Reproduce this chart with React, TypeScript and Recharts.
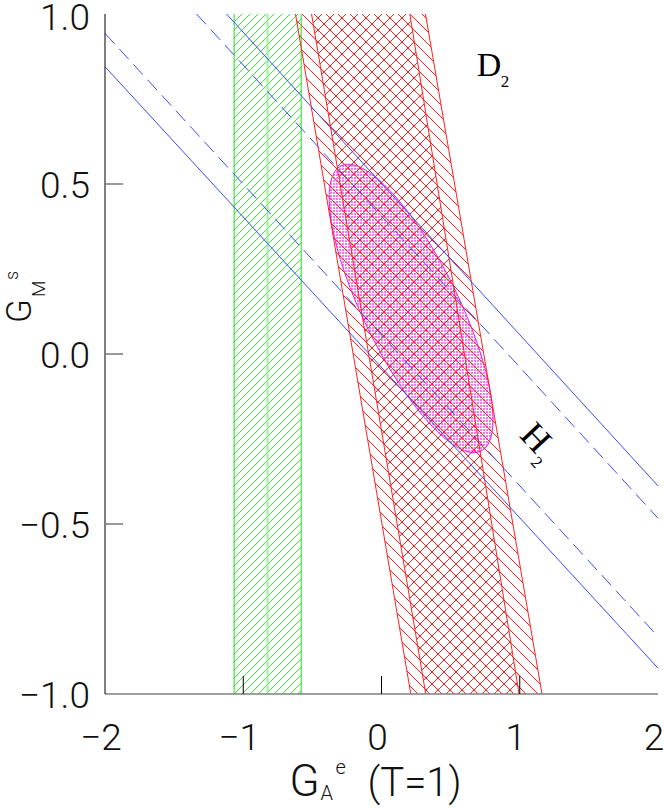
import React from 'react';
import {
  ComposedChart,
  XAxis,
  YAxis,
  ReferenceArea,
  ReferenceLine,
  ReferenceDot,
} from 'recharts';

// axis ticks
const xTicks = [-2, -1, 0, 1, 2];
const yTicks = [-1, -0.5, 0, 0.5, 1];
const innerXTicks = [-1, 0, 1];
const innerYTicks = [-0.5, 0, 0.5];

// green vertical band (x range) and its centre line
const greenBand = [-1.066, -0.581];
const greenCentre = -0.824;

// red band edges: [x at y = 1, x at y = -1]
const redOuterLeft = [-0.622, 0.212];
const redInnerLeft = [-0.506, 0.32];
const redInnerRight = [0.205, 0.995];
const redOuterRight = [0.318, 1.161];

// blue lines, end points on the frame
const blueSolidLow = [{ x: -2, y: 0.845 }, { x: 2, y: -0.924 }];
const blueDashLow = [{ x: -2, y: 0.943 }, { x: 2, y: -0.831 }];
const blueDashHigh = [{ x: -1.338, y: 1 }, { x: 2, y: -0.483 }];
const blueSolidHigh = [{ x: -1.121, y: 1 }, { x: 2, y: -0.388 }];

// magenta ellipse: centre and two conjugate semi-diameters (data units)
const ellipseCentre = { x: 0.214, y: 0.134 };
const ellipseAxisU = { x: 0.593, y: -0.326 };
const ellipseAxisV = { x: 0, y: 0.272 };

// annotation anchors
const labelD2 = { x: 0.769, y: 0.853 };
const labelH2 = { x: 1.119, y: -0.246 };

const SANS = 'Roboto, "Liberation Sans", Arial, sans-serif';
const SERIF = '"Liberation Serif", "Times New Roman", serif';
const RED = '#ff2020';
const BLUE = '#3a4cf0';
const GREEN = '#22dd22';

const band = (left: number[], right: number[]) => [
  { x: left[0], y: 1 },
  { x: right[0], y: 1 },
  { x: right[1], y: -1 },
  { x: left[1], y: -1 },
];
const redOuter = band(redOuterLeft, redOuterRight);
const redInner = band(redInnerLeft, redInnerRight);

const boxOf = (pts: { x: number; y: number }[]) => ({
  x1: Math.min(...pts.map((p) => p.x)),
  x2: Math.max(...pts.map((p) => p.x)),
  y1: Math.min(...pts.map((p) => p.y)),
  y2: Math.max(...pts.map((p) => p.y)),
});

// maps data coords inside a ReferenceArea box onto the pixel rect the chart gives it
const mapper = (box: any, r: any) => ({
  px: (v: number) => r.x + ((v - box.x1) / (box.x2 - box.x1)) * r.width,
  py: (v: number) => r.y + ((box.y2 - v) / (box.y2 - box.y1)) * r.height,
  sx: r.width / (box.x2 - box.x1),
  sy: r.height / (box.y2 - box.y1),
});

const polygonShape = (pts: { x: number; y: number }[], fill: string) => {
  const box = boxOf(pts);
  return (r: any) => {
    const m = mapper(box, r);
    const d = pts.map((p, i) => `${i ? 'L' : 'M'}${m.px(p.x)},${m.py(p.y)}`).join(' ') + ' Z';
    return <path d={d} fill={fill} stroke="none" />;
  };
};

// green band: "/" hatch lines clipped to the band rectangle
const greenHatchShape = (r: any) => {
  const step = 8;
  const lines = [];
  for (let t = -r.height; t < r.width + step; t += step) {
    lines.push(
      <line
        key={t}
        x1={r.x + t}
        y1={r.y + r.height}
        x2={r.x + t + r.height}
        y2={r.y}
        stroke="#2ee02e"
        strokeWidth={1}
      />
    );
  }
  return (
    <g>
      <clipPath id="greenClip">
        <rect x={r.x} y={r.y} width={r.width} height={r.height} />
      </clipPath>
      <g clipPath="url(#greenClip)">{lines}</g>
    </g>
  );
};

const fullBox = { x1: -2, x2: 2, y1: -1, y2: 1 };

const ellipseShape = (r: any) => {
  const m = mapper(fullBox, r);
  const cx = m.px(ellipseCentre.x);
  const cy = m.py(ellipseCentre.y);
  const u = [ellipseAxisU.x * m.sx, -ellipseAxisU.y * m.sy];
  const v = [ellipseAxisV.x * m.sx, -ellipseAxisV.y * m.sy];
  const a = u[0] * u[0] + v[0] * v[0];
  const b = u[0] * u[1] + v[0] * v[1];
  const c = u[1] * u[1] + v[1] * v[1];
  const h = Math.sqrt(((a - c) / 2) ** 2 + b * b);
  const rx = Math.sqrt((a + c) / 2 + h);
  const ry = Math.sqrt((a + c) / 2 - h);
  const th = 0.5 * Math.atan2(2 * b, a - c);
  const deg = (th * 180) / Math.PI;
  const ex = rx * Math.cos(th);
  const ey = rx * Math.sin(th);
  const d = `M${cx + ex},${cy + ey} A${rx},${ry} ${deg} 1 0 ${cx - ex},${cy - ey} A${rx},${ry} ${deg} 1 0 ${cx + ex},${cy + ey} Z`;
  return <path d={d} fill="url(#pinkDots)" stroke="#e020e0" strokeWidth={1} />;
};

const fmt = (v: number, digits: number) => (v < 0 ? '\u2212' : '') + Math.abs(v).toFixed(digits);

const BottomTick = (props: any) => {
  const { x, y, payload } = props;
  return (
    <g>
      {innerXTicks.includes(payload.value) && (
        <line x1={x} x2={x} y1={y} y2={y - 18} stroke="#000" strokeWidth={1} />
      )}
      <text x={x - 4} y={y + 56} textAnchor="middle" fontFamily={SANS} fontWeight={300} fontSize={37} fill="#111">
        {fmt(payload.value, 0)}
      </text>
    </g>
  );
};

const TopTick = (props: any) => {
  const { x, y, payload } = props;
  if (!innerXTicks.includes(payload.value)) return <g />;
  return <line x1={x} x2={x} y1={y} y2={y + 18} stroke="#000" strokeWidth={1} />;
};

const LeftTick = (props: any) => {
  const { x, y, payload } = props;
  return (
    <g>
      {innerYTicks.includes(payload.value) && (
        <line x1={x} x2={x + 18} y1={y} y2={y} stroke="#777" strokeWidth={1.5} />
      )}
      <text
        x={x - 15}
        y={Math.max(y + 14, 30)}
        textAnchor="end"
        fontFamily={SANS}
        fontWeight={300}
        fontSize={37}
        fill="#111"
      >
        {fmt(payload.value, 1)}
      </text>
    </g>
  );
};

const RightTick = (props: any) => {
  const { x, y, payload } = props;
  if (!innerYTicks.includes(payload.value)) return <g />;
  return <line x1={x} x2={x - 18} y1={y} y2={y} stroke="#777" strokeWidth={1.5} />;
};

const XTitle = (props: any) => {
  const vb = props.viewBox;
  const cx = vb.x + vb.width / 2;
  const base = vb.y + 102;
  const t = { fontFamily: SANS, fontWeight: 300, fill: '#111' } as any;
  return (
    <g>
      <text x={cx - 92} y={base} fontSize={44} {...t}>G</text>
      <text x={cx - 61} y={base + 4} fontSize={20} {...t}>A</text>
      <text x={cx - 46} y={base - 22} fontSize={20} {...t}>e</text>
      <text x={cx - 14} y={base} fontSize={40} {...t}>(T=1)</text>
    </g>
  );
};

const YTitle = (props: any) => {
  const vb = props.viewBox;
  const bx = vb.x + 31;
  const by = vb.y + vb.height / 2 - 31;
  const t = { fontFamily: SANS, fontWeight: 300, fill: '#111' } as any;
  return (
    <g transform={`translate(${bx},${by}) rotate(-90)`}>
      <text x={0} y={0} fontSize={35} {...t}>G</text>
      <text x={26} y={14} fontSize={19} {...t}>M</text>
      <text x={43} y={-13} fontSize={18} {...t}>s</text>
    </g>
  );
};

const D2Label = (p: any) => (
  <g>
    <text x={p.cx - 11} y={p.cy + 12} fontFamily={SERIF} fontSize={34} fill="#000">D</text>
    <text x={p.cx + 13} y={p.cy + 23} fontFamily={SERIF} fontSize={17} fill="#000">2</text>
  </g>
);

const H2Label = (p: any) => (
  <g transform={`translate(${p.cx},${p.cy}) rotate(47)`}>
    <text x={0} y={12} textAnchor="middle" fontFamily={SERIF} fontSize={36} fill="#000">H</text>
    <text x={14} y={22} fontFamily={SERIF} fontSize={17} fill="#000">2</text>
  </g>
);

export default function App() {
  return (
    <div style={{ width: 664, height: 808, background: '#fff' }}>
      <style>{'body{margin:0;background:#fff}'}</style>
      <ComposedChart width={664} height={808} margin={{ top: 14, right: 6, bottom: 0, left: 0 }}>
        <defs>
          <pattern id="rBack" patternUnits="userSpaceOnUse" x={0} y={0} width={12} height={12}>
            <line x1={-1} y1={-1} x2={13} y2={13} stroke={RED} strokeWidth={1} />
            <line x1={-1} y1={11} x2={1} y2={13} stroke={RED} strokeWidth={1} />
            <line x1={11} y1={-1} x2={13} y2={1} stroke={RED} strokeWidth={1} />
          </pattern>
          <pattern id="rFwd" patternUnits="userSpaceOnUse" x={0} y={0} width={12} height={12}>
            <line x1={-1} y1={13} x2={13} y2={-1} stroke={RED} strokeWidth={1} />
            <line x1={-1} y1={1} x2={1} y2={-1} stroke={RED} strokeWidth={1} />
            <line x1={11} y1={13} x2={13} y2={11} stroke={RED} strokeWidth={1} />
          </pattern>
          <pattern id="pinkDots" patternUnits="userSpaceOnUse" x={0} y={0} width={3} height={3}>
            <rect x={0} y={0} width={3} height={3} fill="#ffffff" />
            <rect x={0} y={0} width={2} height={2} fill="#ff70ff" />
          </pattern>
        </defs>

        <XAxis
          type="number"
          dataKey="x"
          domain={[-2, 2]}
          ticks={xTicks}
          interval={0}
          allowDataOverflow
          height={114}
          tickSize={0}
          tickMargin={0}
          tickLine={false}
          tick={BottomTick}
          axisLine={{ stroke: '#808080', strokeWidth: 1.5 }}
          label={{ content: XTitle }}
        />
        <XAxis
          xAxisId="top"
          orientation="top"
          type="number"
          domain={[-2, 2]}
          ticks={xTicks}
          interval={0}
          allowDataOverflow
          height={0}
          tickSize={0}
          tickMargin={0}
          tickLine={false}
          tick={TopTick}
          axisLine={{ stroke: '#808080', strokeWidth: 1.5 }}
        />
        <YAxis
          type="number"
          dataKey="y"
          domain={[-1, 1]}
          ticks={yTicks}
          interval={0}
          allowDataOverflow
          width={105}
          tickSize={0}
          tickMargin={0}
          tickLine={false}
          tick={LeftTick}
          axisLine={{ stroke: '#000', strokeWidth: 1 }}
          label={{ content: YTitle }}
        />
        <YAxis
          yAxisId="right"
          orientation="right"
          type="number"
          domain={[-1, 1]}
          ticks={yTicks}
          interval={0}
          allowDataOverflow
          width={0}
          tickSize={0}
          tickMargin={0}
          tickLine={false}
          tick={RightTick}
          axisLine={{ stroke: '#808080', strokeWidth: 1.5 }}
        />

        <ReferenceArea x1={greenBand[0]} x2={greenBand[1]} y1={-1} y2={1} shape={greenHatchShape} />
        <ReferenceArea x1={-2} x2={2} y1={-1} y2={1} shape={ellipseShape} />
        <ReferenceArea
          x1={boxOf(redOuter).x1}
          x2={boxOf(redOuter).x2}
          y1={-1}
          y2={1}
          shape={polygonShape(redOuter, 'url(#rBack)')}
        />
        <ReferenceArea
          x1={boxOf(redInner).x1}
          x2={boxOf(redInner).x2}
          y1={-1}
          y2={1}
          shape={polygonShape(redInner, 'url(#rFwd)')}
        />

        <ReferenceLine x={greenBand[0]} stroke={GREEN} strokeWidth={1} />
        <ReferenceLine x={greenBand[1]} stroke={GREEN} strokeWidth={1} />
        <ReferenceLine x={greenCentre} stroke="#a0f0a0" strokeWidth={2} />

        {[redOuterLeft, redInnerLeft, redInnerRight, redOuterRight].map((e, i) => (
          <ReferenceLine
            key={'r' + i}
            segment={[{ x: e[0], y: 1 }, { x: e[1], y: -1 }]}
            stroke={RED}
            strokeWidth={1}
          />
        ))}

        <ReferenceLine segment={blueSolidLow} stroke={BLUE} strokeWidth={1} />
        <ReferenceLine segment={blueSolidHigh} stroke={BLUE} strokeWidth={1} />
        <ReferenceLine segment={blueDashLow} stroke={BLUE} strokeWidth={1} strokeDasharray="14 7" />
        <ReferenceLine segment={blueDashHigh} stroke={BLUE} strokeWidth={1} strokeDasharray="14 7" />

        <ReferenceDot x={labelD2.x} y={labelD2.y} r={0} shape={D2Label} />
        <ReferenceDot x={labelH2.x} y={labelH2.y} r={0} shape={H2Label} />
      </ComposedChart>
    </div>
  );
}
